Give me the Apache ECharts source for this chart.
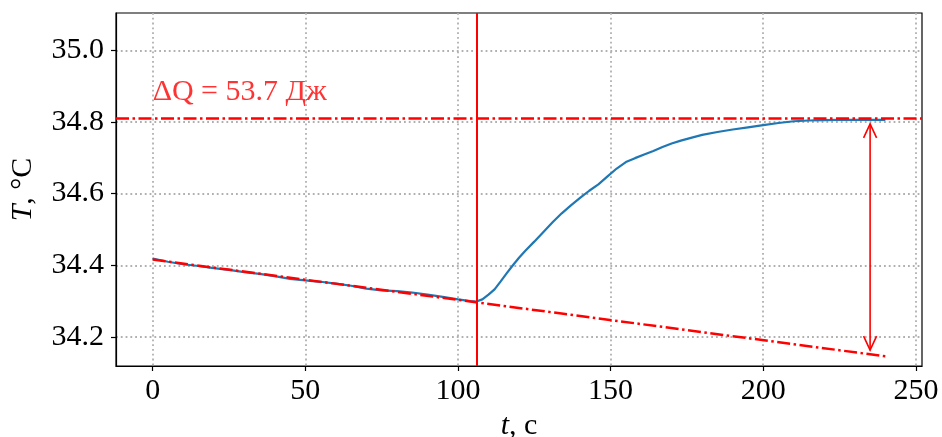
<!DOCTYPE html>
<html>
<head>
<meta charset="utf-8">
<script src="https://cdn.jsdelivr.net/npm/echarts@6/dist/echarts.min.js"></script>
<style>html,body{margin:0;padding:0;background:#fff}#c{width:942px;height:437px}</style>
</head>
<body>
<div id="c"></div>
<script>
// ---- data ----
const timeValues = [0,5,10,15,20,25,30,35,40,45,50,55,60,65,70,75,80,85,90,95,100,104,106,108,110,112,114,116,118,120,122,125,128,131,134,137,140,143,146,149,152,155,158,161,164,167,170,173,176,180,185,190,195,200,205,210,215,220,225,230,235,240];
const tempValues = [34.419,34.410,34.403,34.398,34.392,34.387,34.381,34.376,34.370,34.362,34.358,34.354,34.349,34.343,34.335,34.330,34.328,34.324,34.318,34.312,34.305,34.300,34.299,34.305,34.318,34.333,34.355,34.378,34.400,34.421,34.440,34.466,34.493,34.520,34.545,34.567,34.588,34.608,34.626,34.648,34.670,34.688,34.699,34.709,34.719,34.730,34.740,34.748,34.755,34.764,34.772,34.779,34.785,34.791,34.797,34.802,34.804,34.805,34.806,34.806,34.806,34.806];
const fitLineT = [0, 240];
const fitLineV = [34.416, 34.146];
const heatingStartT = 106;
const finalTempLevel = 34.806;
const arrowT = 235;
const arrowFromV = 34.152;
const arrowToV = 34.806;
const annotationText = 'ΔQ = 53.7 Дж';
const annotationPos = [0, 34.882];
const xTicks = [0, 50, 100, 150, 200, 250];
const yTicks = [34.2, 34.4, 34.6, 34.8, 35.0];
const xRange = [-12, 252];
const yRange = [34.119, 35.104];

// ---- chart ----
const FONT = '"Liberation Serif", "DejaVu Serif", serif';
const FS = 30;
const RED = '#ff0000';
const BLUE = '#1f77b4';
const chart = echarts.init(document.getElementById('c'), null, {renderer: 'canvas'});

const gridLine = {show: true, lineStyle: {color: '#b0b0b0', width: 1.8, type: [1.8, 3]}};
const axisCommon = {
  type: 'value',
  axisLine: {show: true, onZero: false, lineStyle: {color: '#000', width: 1.2}},
  axisTick: {show: true, inside: false, length: 5, lineStyle: {color: '#000', width: 1.2}},
  splitLine: gridLine,
  nameLocation: 'middle',
  nameTextStyle: {fontFamily: FONT, fontSize: FS, color: '#000',
    rich: {it: {fontFamily: FONT, fontSize: FS, fontStyle: 'italic', color: '#000'}}}
};

const blueData = timeValues.map((t, i) => [t, tempValues[i]]);
const fitData = fitLineT.map((t, i) => [t, fitLineV[i]]);

chart.setOption({
  animation: false,
  grid: {left: 116, right: 20, top: 13, bottom: 71, show: true, borderColor: '#000', borderWidth: 1.2,
    backgroundColor: 'transparent', containLabel: false, outerBoundsMode: 'none'},
  xAxis: Object.assign({}, axisCommon, {
    min: xRange[0], max: xRange[1],
    axisTick: Object.assign({}, axisCommon.axisTick, {customValues: xTicks}),
    axisLabel: {customValues: xTicks, fontFamily: FONT, fontSize: FS, color: '#000', margin: 10},
    name: '{it|t}, с', nameGap: 39
  }),
  yAxis: Object.assign({}, axisCommon, {
    min: yRange[0], max: yRange[1],
    axisTick: Object.assign({}, axisCommon.axisTick, {customValues: yTicks}),
    axisLabel: {customValues: yTicks, fontFamily: FONT, fontSize: FS, color: '#000', margin: 12,
      formatter: v => v.toFixed(1)},
    name: '{it|T}, °C', nameGap: 78
  }),
  series: [
    {
      type: 'line', data: blueData, showSymbol: false, symbol: 'none', z: 3,
      lineStyle: {color: BLUE, width: 2.2}, smooth: false,
      markLine: {
        silent: true, symbol: 'none', label: {show: false},
        data: [
          {xAxis: heatingStartT, lineStyle: {color: RED, width: 2, type: 'solid'}},
          {yAxis: finalTempLevel, lineStyle: {color: RED, width: 2.5, type: [13, 3.5, 2.5, 3.5]}}
        ]
      }
    },
    {
      type: 'line', data: fitData, showSymbol: false, symbol: 'none', z: 4,
      lineStyle: {color: RED, width: 2.5, type: [13, 3.5, 2.5, 3.5]}
    },
    {
      type: 'custom', z: 5, silent: true,
      data: [[arrowT, arrowFromV, arrowToV]],
      renderItem: function (params, api) {
        const a = api.coord([api.value(0), api.value(2)]);
        const b = api.coord([api.value(0), api.value(1)]);
        const shrink = 4, hw = 6.5, hl = 14;
        const x = a[0];
        const yTop = a[1] + shrink, yBot = b[1] - shrink;
        const st = {stroke: RED, lineWidth: 1.6, fill: null};
        return {type: 'group', children: [
          {type: 'line', shape: {x1: x, y1: yTop, x2: x, y2: yBot}, style: st},
          {type: 'polyline', shape: {points: [[x - hw, yTop + hl], [x, yTop], [x + hw, yTop + hl]]}, style: st},
          {type: 'polyline', shape: {points: [[x - hw, yBot - hl], [x, yBot], [x + hw, yBot - hl]]}, style: st}
        ]};
      }
    },
    {
      type: 'scatter', data: [annotationPos], symbolSize: 0, z: 6, silent: true,
      label: {show: true, position: 'right', distance: 0, formatter: annotationText,
        fontFamily: FONT, fontSize: FS, color: RED}
    }
  ]
});
</script>
</body>
</html>
